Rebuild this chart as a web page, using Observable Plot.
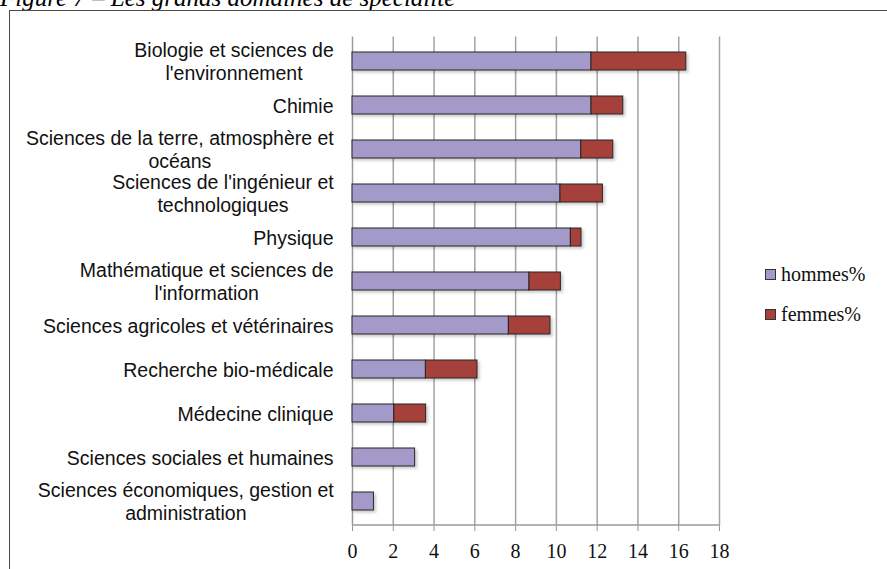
<!DOCTYPE html>
<html>
<head>
<meta charset="utf-8">
<script src="https://cdn.jsdelivr.net/npm/d3@7"></script>
<script src="https://cdn.jsdelivr.net/npm/@observablehq/plot@0.6"></script>
<style>
  html, body { margin: 0; padding: 0; background: #fff; overflow: hidden; }
  #wrap { position: relative; width: 887px; height: 569px; overflow: hidden; }
  #title { position: absolute; left: 0px; top: -16px; font: italic 25px "Liberation Serif", serif; white-space: nowrap; color: #000; }
  #frame { position: absolute; left: 9px; top: 10px; width: 900px; height: 600px; border-left: 1.5px solid #4a4a4a; border-top: 1.5px solid #4a4a4a; }
  #chart { position: absolute; left: 0; top: 0; }
  #legend { position: absolute; left: 765px; top: 262px; font: 20px "Liberation Serif", serif; color: #111; }
  .item { display: flex; align-items: center; height: 24px; margin-bottom: 16px; }
  .sw { width: 9px; height: 9px; border: 1px solid #333; margin-right: 5px; }
  g[aria-label="bar"] { filter: drop-shadow(2px 2px 1.5px rgba(0,0,0,0.22)); }
</style>
</head>
<body>
<div id="wrap">
  <div id="title">Figure 7 – Les grands domaines de spécialité</div>
  <div id="frame"></div>
  <div id="chart"></div>
  <div id="legend"></div>
</div>
<script>
const categories = [
  "Biologie et sciences de\nl'environnement",
  "Chimie",
  "Sciences de la terre, atmosphère et\nocéans",
  "Sciences de l'ingénieur et\ntechnologiques",
  "Physique",
  "Mathématique et sciences de\nl'information",
  "Sciences agricoles et vétérinaires",
  "Recherche bio-médicale",
  "Médecine clinique",
  "Sciences sociales et humaines",
  "Sciences économiques, gestion et\nadministration"
];
const hommes = [11.72, 11.72, 11.22, 10.2, 10.71, 8.68, 7.67, 3.6, 2.05, 3.07, 1.05];
const femmes = [4.65, 1.56, 1.57, 2.08, 0.52, 1.54, 2.04, 2.53, 1.56, 0, 0];
const series = ["hommes%", "femmes%"];
const colors = ["#a39aca", "#a6403a"];
const xTicks = [0, 2, 4, 6, 8, 10, 12, 14, 16, 18];

const values = [hommes, femmes];
const rows = [];
series.forEach((s, si) => {
  categories.forEach((c, ci) => {
    if (values[si][ci] > 0) rows.push({cat: c, sex: s, value: values[si][ci]});
  });
});

function axisLines(index, scales, vals, dims) {
  const y = scales.y;
  const bw = y.bandwidth || 0;
  const step = y(categories[1]) - y(categories[0]);
  const centers = categories.map(c => y(c) + bw / 2);
  const bounds = [centers[0] - step / 2, ...centers.map(c => c + step / 2)];
  const g = d3.create("svg:g");
  g.selectAll("line.t").data(bounds).join("line")
    .attr("x1", dims.marginLeft - 6).attr("x2", dims.marginLeft)
    .attr("y1", d => d).attr("y2", d => d)
    .attr("stroke", "#9a9a9a").attr("stroke-width", 1.2);
  const yb = dims.height - dims.marginBottom;
  g.append("line")
    .attr("x1", dims.marginLeft).attr("x2", dims.width - dims.marginRight)
    .attr("y1", yb).attr("y2", yb)
    .attr("stroke", "#9a9a9a").attr("stroke-width", 1.5);
  return g.node();
}

const chart = Plot.plot({
  width: 887,
  height: 569,
  marginLeft: 352,
  marginRight: 168,
  marginTop: 36.5,
  marginBottom: 44,
  style: {fontFamily: "'Liberation Sans', Arial, sans-serif", background: "transparent", overflow: "visible"},
  x: {domain: [0, 18]},
  y: {domain: categories, paddingInner: 0.6, paddingOuter: 0.3},
  color: {domain: series, range: colors},
  marks: [
    Plot.gridX(xTicks.filter(v => v > 0), {stroke: "#a3a3a3", strokeOpacity: 1, strokeWidth: 1.5}),
    Plot.ruleX([0], {stroke: "#9a9a9a", strokeWidth: 1.5}),
    axisLines,
    Plot.barX(rows, Plot.stackX({x: "value", y: "cat", fill: "sex", stroke: "#262626", strokeWidth: 1})),
    Plot.axisX({ticks: xTicks, tickSize: 6, tickPadding: 12, stroke: "#9a9a9a", fontSize: 20, fontFamily: "'Liberation Serif', serif", fill: "#111", label: null}),
    Plot.axisY({tickSize: 0, tickPadding: 19, fontSize: 19.5, lineHeight: 1.18, fill: "#111", label: null})
  ]
});
document.getElementById("chart").appendChild(chart);

// center multi-line tick labels within their block (right edge kept)
d3.select(chart).selectAll('g[aria-label="y-axis tick label"] text').each(function() {
  const tspans = this.querySelectorAll("tspan");
  if (tspans.length < 2) return;
  const bb = this.getBBox();
  const right = bb.x + bb.width;
  this.setAttribute("text-anchor", "middle");
  tspans.forEach(t => t.setAttribute("x", right - bb.width / 2));
});

const legend = d3.select("#legend");
series.forEach((s, i) => {
  const it = legend.append("div").attr("class", "item");
  it.append("div").attr("class", "sw").style("background", colors[i]);
  it.append("span").text(s);
});
</script>
</body>
</html>
